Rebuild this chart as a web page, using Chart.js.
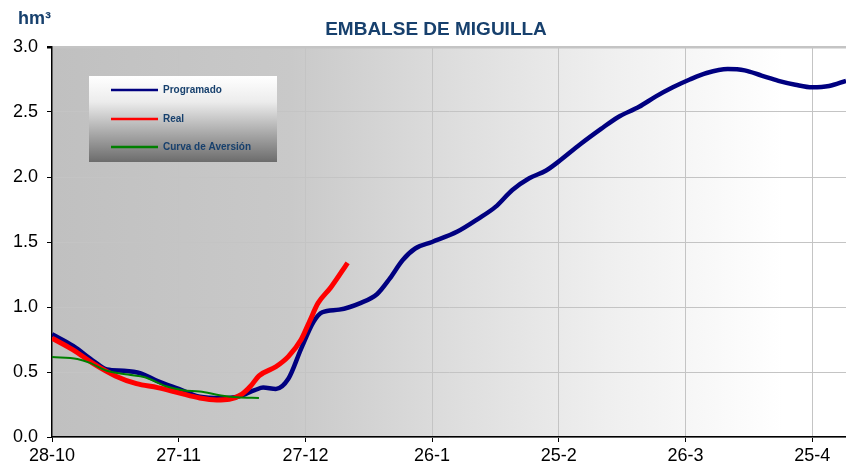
<!DOCTYPE html>
<html>
<head>
<meta charset="utf-8">
<script src="https://cdn.jsdelivr.net/npm/chart.js@4.4.1/dist/chart.umd.min.js"></script>
<style>
  html, body { margin: 0; padding: 0; background: #ffffff; }
  #wrap { width: 846px; height: 471px; position: relative; }
</style>
</head>
<body>
<div id="wrap"><canvas id="c" width="846" height="471"></canvas></div>
<script>
// ---- data (days since 28-10) ----
const tickLabels = ["28-10", "27-11", "27-12", "26-1", "25-2", "26-3", "25-4"];

const progDays = [0, 5, 10, 13, 17, 21, 25, 30, 35, 40, 44, 48, 50, 53, 56, 59, 62, 64, 68, 73, 77, 80, 83, 86, 90, 96, 101, 105, 109, 113, 117, 120, 125, 130, 134, 139, 143, 147, 151, 155, 160, 164, 168, 172, 176, 180, 184, 188];
const progVals = [0.79, 0.70, 0.58, 0.52, 0.51, 0.49, 0.43, 0.37, 0.31, 0.30, 0.31, 0.36, 0.38, 0.37, 0.45, 0.68, 0.89, 0.96, 0.98, 1.03, 1.10, 1.22, 1.36, 1.45, 1.50, 1.58, 1.68, 1.77, 1.90, 1.99, 2.05, 2.12, 2.25, 2.37, 2.46, 2.54, 2.62, 2.69, 2.75, 2.80, 2.83, 2.82, 2.78, 2.74, 2.71, 2.69, 2.70, 2.74];

const realDays = [0, 5, 10, 15, 20, 25, 30, 35, 39, 42, 45, 47, 49, 53, 56, 59, 61, 63, 66, 70];
const realVals = [0.76, 0.67, 0.56, 0.47, 0.41, 0.38, 0.34, 0.30, 0.285, 0.29, 0.33, 0.39, 0.47, 0.54, 0.62, 0.75, 0.89, 1.03, 1.15, 1.34];

const avDays = [0, 6, 9, 13, 18, 22, 27, 31, 35, 40, 44, 49];
const avVals = [0.615, 0.60, 0.57, 0.51, 0.48, 0.46, 0.39, 0.36, 0.35, 0.32, 0.305, 0.30];

const seriesNames = ["Programado", "Real", "Curva de Aversión"];
const chartTitle = "EMBALSE DE MIGUILLA";
const unitLabel = "hm³";

function pts(d, v) { return d.map((x, i) => ({ x: x, y: v[i] })); }

const FONT = "'Liberation Sans', Arial, sans-serif";

const bgPlugin = {
  id: 'bg',
  beforeDraw(chart) {
    const { ctx, chartArea: a } = chart;
    const g = ctx.createLinearGradient(a.left, 0, a.right, 0);
    g.addColorStop(0, '#c0c0c0');
    g.addColorStop(0.3, '#c9c9c9');
    g.addColorStop(0.5, '#dddddd');
    g.addColorStop(0.7, '#efefef');
    g.addColorStop(0.92, '#ffffff');
    g.addColorStop(1, '#ffffff');
    ctx.save();
    ctx.fillStyle = g;
    ctx.fillRect(a.left, a.top, a.right - a.left, a.bottom - a.top);
    ctx.restore();
  },
  afterDraw(chart) {
    const { ctx } = chart;
    ctx.save();
    ctx.fillStyle = '#17406d';
    ctx.textBaseline = 'middle';
    ctx.textAlign = 'left';
    ctx.font = 'bold 18px ' + FONT;
    ctx.fillText(unitLabel, 18, 19);
    ctx.textAlign = 'center';
    ctx.font = 'bold 19px ' + FONT;
    ctx.fillText(chartTitle, 436, 30);
    ctx.restore();
  }
};

const legendPlugin = {
  id: 'boxLegend',
  afterDatasetsDraw(chart) {
    const { ctx } = chart;
    const x0 = 89, y0 = 76, w = 188, h = 86;
    ctx.save();
    const g = ctx.createLinearGradient(0, y0, 0, y0 + h);
    g.addColorStop(0, '#ffffff');
    g.addColorStop(0.3, '#ececec');
    g.addColorStop(1, '#6c6c6c');
    ctx.fillStyle = g;
    ctx.fillRect(x0, y0, w, h);
    const rows = [90, 119, 147];
    chart.data.datasets.forEach((ds, i) => {
      ctx.strokeStyle = ds.borderColor;
      ctx.lineWidth = 2.5;
      ctx.beginPath();
      ctx.moveTo(111, rows[i]);
      ctx.lineTo(158, rows[i]);
      ctx.stroke();
      ctx.fillStyle = '#17406d';
      ctx.font = 'bold 10px ' + FONT;
      ctx.textBaseline = 'middle';
      ctx.textAlign = 'left';
      ctx.fillText(ds.label, 163, rows[i]);
    });
    ctx.restore();
  }
};

new Chart(document.getElementById('c'), {
  type: 'line',
  data: {
    datasets: [
      { label: seriesNames[0], data: pts(progDays, progVals), borderColor: '#000080', borderWidth: 4.5, pointRadius: 0, tension: 0.4, cubicInterpolationMode: 'monotone', order: 2 },
      { label: seriesNames[1], data: pts(realDays, realVals), borderColor: '#ff0000', borderWidth: 5, pointRadius: 0, tension: 0.4, cubicInterpolationMode: 'monotone', order: 1 },
      { label: seriesNames[2], data: pts(avDays, avVals), borderColor: '#008000', borderWidth: 2, pointRadius: 0, tension: 0.4, cubicInterpolationMode: 'monotone', order: 0 }
    ]
  },
  options: {
    responsive: false,
    animation: false,
    layout: { padding: { left: 0, right: 0, top: 47, bottom: 0 } },
    plugins: {
      legend: { display: false },
      tooltip: { enabled: false },
      title: { display: false }
    },
    scales: {
      x: {
        type: 'linear',
        min: 0,
        max: 188,
        afterFit: s => { s.height = 34; },
        ticks: {
          stepSize: 30,
          includeBounds: false,
          autoSkip: false,
          maxRotation: 0,
          color: '#000000',
          padding: 3,
          font: { family: FONT, size: 18 },
          callback: v => tickLabels[Math.round(v / 30)]
        },
        grid: { color: '#c4c4c4', lineWidth: 1, tickColor: '#000000', tickLength: 5, drawTicks: true },
        border: { color: '#000000', width: 1.5 }
      },
      y: {
        min: 0,
        max: 3,
        afterFit: s => { s.width = 52; },
        ticks: {
          stepSize: 0.5,
          color: '#000000',
          padding: 9,
          font: { family: FONT, size: 18 },
          callback: v => v.toFixed(1)
        },
        grid: {
          color: '#c4c4c4',
          lineWidth: c => (c.tick && c.tick.value === 3 ? 2.5 : 1),
          tickColor: '#000000',
          tickLength: 5
        },
        border: { color: '#000000', width: 1.5 }
      }
    }
  },
  plugins: [bgPlugin, legendPlugin]
});
</script>
</body>
</html>
